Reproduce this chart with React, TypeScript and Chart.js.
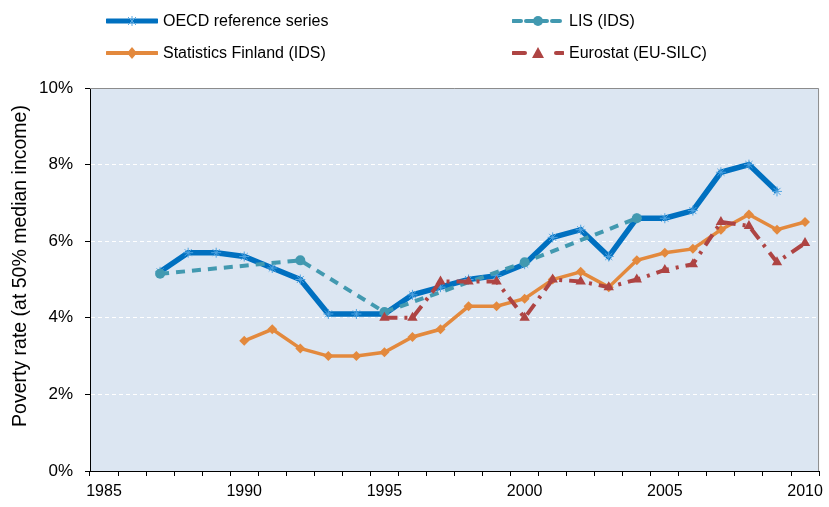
import React, { useEffect, useRef } from "react";
import { Chart, registerables } from "chart.js";

Chart.register(...registerables);

const years = [
  "1985", "1986", "1987", "1988", "1989", "1990", "1991", "1992", "1993", "1994",
  "1995", "1996", "1997", "1998", "1999", "2000", "2001", "2002", "2003", "2004",
  "2005", "2006", "2007", "2008", "2009", "2010",
];

const oecdSeries = [
  null, null, 5.2, 5.7, 5.7, 5.6, 5.3, 5.0, 4.1, 4.1,
  4.1, 4.6, 4.8, 5.0, 5.1, 5.4, 6.1, 6.3, 5.6, 6.6,
  6.6, 6.8, 7.8, 8.0, 7.3, null,
];

const lisSeries = [
  null, null, 5.15, null, null, null, null, 5.5, null, null,
  4.15, null, null, null, null, 5.45, null, null, null, 6.6,
  null, null, null, null, null, null,
];

const finlandSeries = [
  null, null, null, null, null, 3.4, 3.7, 3.2, 3.0, 3.0,
  3.1, 3.5, 3.7, 4.3, 4.3, 4.5, 5.0, 5.2, 4.8, 5.5,
  5.7, 5.8, 6.3, 6.7, 6.3, 6.5,
];

const eurostatSeries = [
  null, null, null, null, null, null, null, null, null, null,
  4.0, 4.0, 4.95, 4.95, 4.95, 4.0, 5.0, 4.95, 4.8, 5.0,
  5.25, 5.4, 6.5, 6.4, 5.45, 5.95,
];

const yTicks = [0, 2, 4, 6, 8, 10];
const yTitle = "Poverty rate (at 50% median income)";

const FONT = "'Liberation Sans', Arial, 'DejaVu Sans', sans-serif";
const BLUE = "#0070C0";
const TEAL = "#4299B0";
const ORANGE = "#E3893D";
const RED = "#AE4443";

const bgPlugin = {
  id: "plotBg",
  beforeDraw(chart: any) {
    const { ctx, chartArea } = chart;
    ctx.save();
    ctx.fillStyle = "#DCE6F2";
    ctx.fillRect(chartArea.left, chartArea.top, chartArea.right - chartArea.left, chartArea.bottom - chartArea.top);
    ctx.restore();
  },
  afterDraw(chart: any) {
    const { ctx, chartArea } = chart;
    ctx.save();
    ctx.strokeStyle = "#8C8C8C";
    ctx.lineWidth = 1;
    ctx.beginPath();
    ctx.moveTo(chartArea.left, chartArea.top + 0.5);
    ctx.lineTo(chartArea.right - 0.5, chartArea.top + 0.5);
    ctx.lineTo(chartArea.right - 0.5, chartArea.bottom);
    ctx.stroke();
    // y axis title
    ctx.translate(21, 266);
    ctx.rotate(-Math.PI / 2);
    ctx.fillStyle = "#000";
    ctx.font = `19.5px ${FONT}`;
    ctx.textAlign = "center";
    ctx.textBaseline = "middle";
    ctx.fillText(yTitle, 0, 0);
    ctx.restore();
  },
};

function LegendItem(props: { x: number; y: number; label: string; kind: string }) {
  const { x, y, label, kind } = props;
  let sample: any = null;
  if (kind === "oecd") {
    sample = (
      <svg width="52" height="14">
        <line x1="1" y1="7" x2="51" y2="7" stroke={BLUE} strokeWidth="5" strokeLinecap="round" />
        <g stroke="#5AA8E0" strokeWidth="1">
          <line x1="22" y1="3" x2="30" y2="11" />
          <line x1="30" y1="3" x2="22" y2="11" />
          <line x1="26" y1="2" x2="26" y2="12" />
        </g>
      </svg>
    );
  } else if (kind === "lis") {
    sample = (
      <svg width="52" height="14">
        <line x1="1" y1="7" x2="51" y2="7" stroke={TEAL} strokeWidth="4" strokeDasharray="8 5" strokeLinecap="round" />
        <circle cx="26" cy="7" r="5" fill={TEAL} />
      </svg>
    );
  } else if (kind === "finland") {
    sample = (
      <svg width="52" height="14">
        <line x1="1" y1="7" x2="51" y2="7" stroke={ORANGE} strokeWidth="4" strokeLinecap="round" />
        <polygon points="26,1 31,7 26,13 21,7" fill={ORANGE} />
      </svg>
    );
  } else {
    sample = (
      <svg width="52" height="14">
        <line x1="1" y1="7" x2="13" y2="7" stroke={RED} strokeWidth="4" strokeLinecap="round" />
        <line x1="44" y1="7" x2="51" y2="7" stroke={RED} strokeWidth="4" strokeLinecap="round" />
        <polygon points="26,1 32,12 20,12" fill={RED} />
      </svg>
    );
  }
  return (
    <div
      style={{
        position: "absolute",
        left: x,
        top: y,
        display: "flex",
        alignItems: "center",
        font: `16px ${FONT}`,
        color: "#000",
        whiteSpace: "nowrap",
        lineHeight: "18px",
      }}
    >
      <div style={{ width: 52, height: 14, marginRight: 5 }}>{sample}</div>
      <span>{label}</span>
    </div>
  );
}

export default function App() {
  const canvasRef = useRef<HTMLCanvasElement | null>(null);

  useEffect(() => {
    if (!canvasRef.current) return;
    const chart = new Chart(canvasRef.current, {
      type: "line",
      data: {
        labels: years,
        datasets: [
          {
            label: "Eurostat (EU-SILC)",
            data: eurostatSeries,
            borderColor: RED,
            backgroundColor: RED,
            borderWidth: 4,
            borderDash: [13, 7, 3, 7],
            pointStyle: "triangle",
            pointRadius: 6,
            pointBorderWidth: 0,
            pointBackgroundColor: RED,
            spanGaps: true,
            order: 0,
          },
          {
            label: "LIS (IDS)",
            data: lisSeries,
            borderColor: TEAL,
            backgroundColor: TEAL,
            borderWidth: 4,
            borderDash: [9, 7],
            pointStyle: "circle",
            pointRadius: 5,
            pointBorderWidth: 0,
            pointBackgroundColor: TEAL,
            spanGaps: true,
            order: 1,
          },
          {
            label: "Statistics Finland (IDS)",
            data: finlandSeries,
            borderColor: ORANGE,
            backgroundColor: ORANGE,
            borderWidth: 3.5,
            pointStyle: "rectRot",
            pointRadius: 5,
            pointBorderWidth: 0,
            pointBackgroundColor: ORANGE,
            spanGaps: false,
            order: 2,
          },
          {
            label: "OECD reference series",
            data: oecdSeries,
            borderColor: BLUE,
            backgroundColor: BLUE,
            borderWidth: 5.5,
            pointStyle: "star",
            pointRadius: 5,
            pointBorderWidth: 1,
            pointBorderColor: "#4FA3E0",
            pointBackgroundColor: BLUE,
            spanGaps: false,
            order: 3,
          },
        ],
      },
      options: {
        animation: false,
        responsive: true,
        maintainAspectRatio: false,
        layout: { padding: { left: 0, top: 88, right: 9, bottom: 0 } },
        plugins: {
          legend: { display: false },
          tooltip: { enabled: false },
        },
        elements: { line: { tension: 0 } },
        scales: {
          x: {
            type: "category",
            offset: true,
            afterFit(scale: any) {
              scale.height = 36;
            },
            grid: {
              offset: true,
              drawOnChartArea: false,
              drawTicks: true,
              tickLength: 5,
              tickColor: "#000",
              color: "#000",
            },
            border: { display: true, color: "#000", width: 1 },
            ticks: {
              autoSkip: false,
              maxRotation: 0,
              padding: 6,
              color: "#000",
              font: { family: FONT, size: 16 },
              callback: (_v: any, i: number) => (Number(years[i]) % 5 === 0 ? years[i] : ""),
            },
          },
          y: {
            min: yTicks[0],
            max: yTicks[yTicks.length - 1],
            afterFit(scale: any) {
              scale.width = 90;
            },
            afterBuildTicks(scale: any) {
              scale.ticks = yTicks.map((v) => ({ value: v }));
            },
            grid: {
              color: (c: any) => (c.tick && (c.tick.value === 0 || c.tick.value === 10) ? "rgba(0,0,0,0)" : "#FFFFFF"),
              tickColor: "#000",
              tickLength: 5,
              lineWidth: 1,
            },
            border: { display: true, color: "#000", width: 1, dash: [4, 3] },
            ticks: {
              padding: 12,
              color: "#000",
              font: { family: FONT, size: 17 },
              callback: (v: any) => v + "%",
            },
          },
        },
      },
      plugins: [bgPlugin],
    } as any);
    return () => chart.destroy();
  }, []);

  return (
    <div style={{ position: "fixed", left: 0, top: 0, width: 829, height: 507, background: "#fff" }}>
      <canvas ref={canvasRef} />
      <LegendItem x={106} y={12} label="OECD reference series" kind="oecd" />
      <LegendItem x={512} y={12} label="LIS (IDS)" kind="lis" />
      <LegendItem x={106} y={44} label="Statistics Finland (IDS)" kind="finland" />
      <LegendItem x={512} y={44} label="Eurostat (EU-SILC)" kind="eurostat" />
    </div>
  );
}
